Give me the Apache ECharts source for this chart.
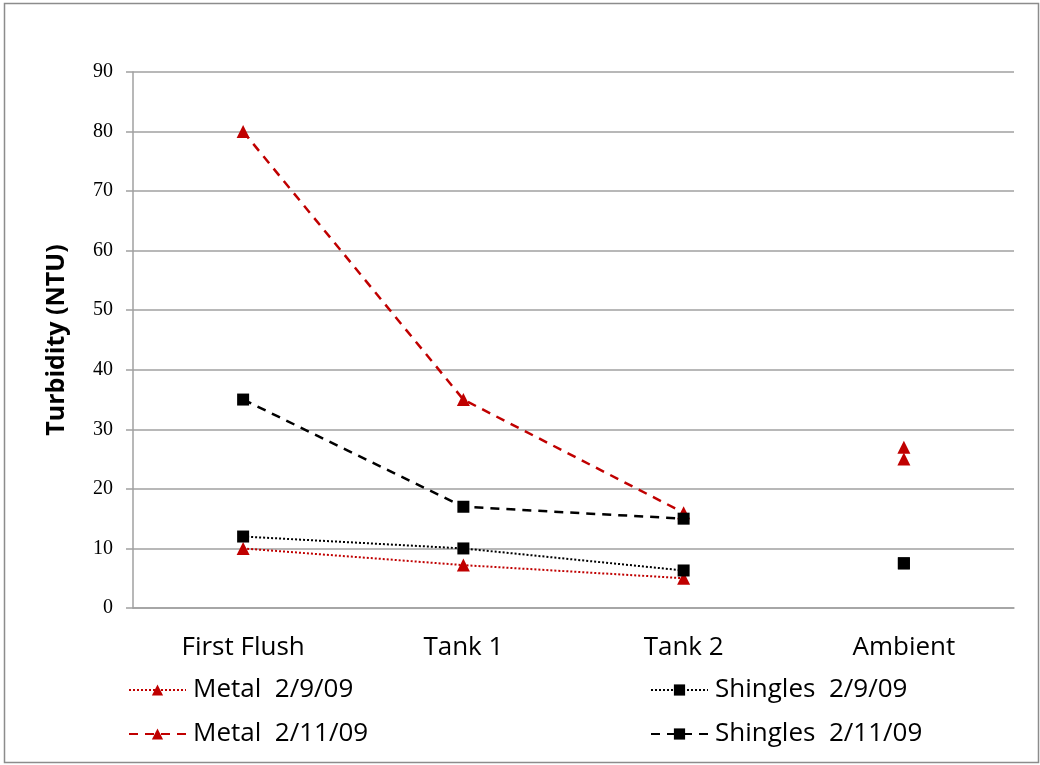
<!DOCTYPE html>
<html>
<head>
<meta charset="utf-8">
<script src="https://cdn.jsdelivr.net/npm/echarts@6/dist/echarts.min.js"></script>
<style>
  html, body { margin: 0; padding: 0; background: #fff; }
  #chart { width: 1040px; height: 765px; }
</style>
</head>
<body>
<div id="chart"></div>
<script>
// Sampling locations along the collection system
const categories = ['First Flush', 'Tank 1', 'Tank 2', 'Ambient'];

// Turbidity readings (NTU) per roof type and sampling date
const metal_2_9   = [10, 7.2, 5, 25];
const metal_2_11  = [80, 35, 16, 27];
const shingles_2_9  = [12, 10, 6.3, 7.5];
const shingles_2_11 = [35, 17, 15, 7.5];

const yTicks = [0, 10, 20, 30, 40, 50, 60, 70, 80, 90];

const RED = '#C00000';
const BLACK = '#000000';
const FONT = "'Open Sans', 'Liberation Sans', sans-serif";

// Roof runoff is connected along the tank sequence; the ambient reading stands alone.
function runoffPart(values) {
  return values.map((v, i) => (i < 3 ? v : null));
}
function ambientPart(values) {
  return values.map((v, i) => (i === 3 ? v : null));
}

const seriesDefs = [
  { name: 'Metal  2/9/09', values: metal_2_9, color: RED, symbol: 'triangle', size: 13, line: { type: [2, 2], width: 2 } },
  { name: 'Metal  2/11/09', values: metal_2_11, color: RED, symbol: 'triangle', size: 13, line: { type: [9, 7], width: 2.5 } },
  { name: 'Shingles  2/9/09', values: shingles_2_9, color: BLACK, symbol: 'rect', size: 12, line: { type: [2, 2], width: 2 } },
  { name: 'Shingles  2/11/09', values: shingles_2_11, color: BLACK, symbol: 'rect', size: 12, line: { type: [9, 7], width: 2.5 } }
];

const series = [];
seriesDefs.forEach(d => {
  series.push({
    name: d.name,
    type: 'line',
    data: runoffPart(d.values),
    symbol: d.symbol,
    symbolSize: d.size,
    itemStyle: { color: d.color, opacity: 1 },
    lineStyle: { color: d.color, type: d.line.type, width: d.line.width },
    connectNulls: false,
    animation: false,
    z: 3
  });
});
seriesDefs.forEach(d => {
  series.push({
    name: d.name,
    type: 'scatter',
    data: ambientPart(d.values),
    symbol: d.symbol,
    symbolSize: d.size,
    itemStyle: { color: d.color, opacity: 1 },
    animation: false,
    z: 3
  });
});

const legendPos = [
  { left: 128, top: 677 },
  { left: 128, top: 721 },
  { left: 650, top: 677 },
  { left: 650, top: 721 }
];
const legends = seriesDefs.map((d, i) => ({
  data: [d.name],
  left: legendPos[i].left,
  top: legendPos[i].top,
  orient: 'horizontal',
  padding: 0,
  itemWidth: 57,
  itemHeight: 14,
  itemGap: 0,
  selectedMode: false,
  textStyle: { fontFamily: FONT, fontSize: 26, color: '#000', padding: [0, 0, 0, 2] }
}));

const chart = echarts.init(document.getElementById('chart'), null, { renderer: 'canvas' });
chart.setOption({
  backgroundColor: '#fff',
  animation: false,
  graphic: [{
    type: 'rect',
    shape: { x: 4.5, y: 3.5, width: 1034, height: 759 },
    style: { fill: 'none', stroke: '#8c8c8c', lineWidth: 1.5 },
    silent: true,
    z: -1
  }],
  grid: { left: 133, right: 26, top: 72, bottom: 157, containLabel: false },
  legend: legends,
  xAxis: {
    type: 'category',
    data: categories,
    boundaryGap: true,
    axisLine: { show: true, lineStyle: { color: '#a0a0a0', width: 1.5 } },
    axisTick: { show: false },
    axisLabel: { fontFamily: FONT, fontSize: 26, color: '#000', margin: 27 }
  },
  yAxis: {
    type: 'value',
    min: yTicks[0],
    max: yTicks[yTicks.length - 1],
    interval: 10,
    name: 'Turbidity (NTU)',
    nameLocation: 'middle',
    nameRotate: 90,
    nameGap: 64,
    nameTextStyle: { fontFamily: FONT, fontSize: 25, fontWeight: 'bold', color: '#000' },
    axisLine: { show: true, lineStyle: { color: '#a0a0a0', width: 1.5 } },
    axisTick: { show: true, length: 7, lineStyle: { color: '#a0a0a0', width: 1.5 } },
    axisLabel: { fontFamily: "'Liberation Serif', 'DejaVu Serif', serif", fontSize: 20, color: '#000', margin: 20 },
    splitLine: { show: true, lineStyle: { color: '#a0a0a0', width: 1.5 } }
  },
  series: series
});
</script>
</body>
</html>
